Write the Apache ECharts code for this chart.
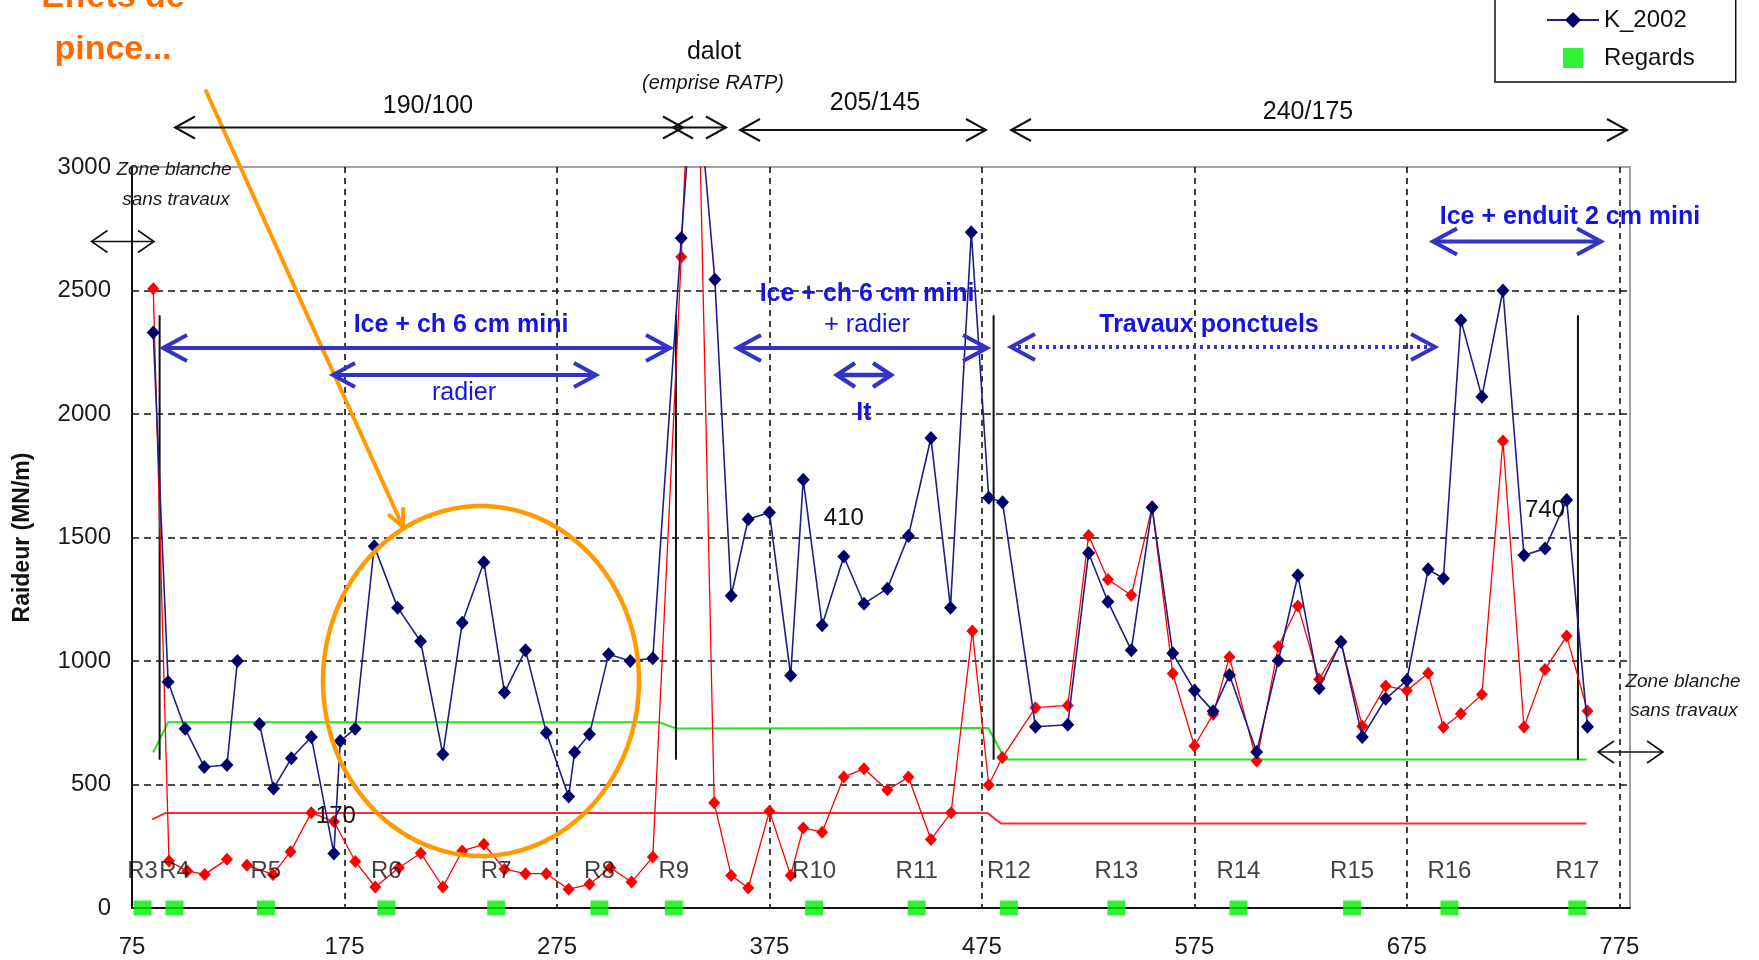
<!DOCTYPE html>
<html lang="fr">
<head>
<meta charset="utf-8">
<title>Raideur (MN/m) – K_2002</title>
<script src="https://cdn.jsdelivr.net/npm/echarts@6/dist/echarts.min.js"></script>
<style>
  html, body { margin: 0; padding: 0; background: #ffffff; }
  #chart { width: 1759px; height: 960px; }
</style>
</head>
<body>
<div id="chart"></div>
<script>
// ---- Measured stiffness along the line (station in m, stiffness in MN/m) ----
// null marks a break in the measurements.
const stationsK2002 = [85, 92, 100, 109, 119.7, 124.6, 130, 135, 141.6, 150,
  159.4, 170, 173, 180, 189, 200, 210.8, 221.3, 230.4, 240.6,
  250.3, 260.2, 270, 280.5, 283.3, 290.3, 299.3, 309.5, 320.1, 333.5,
  340, 349.3, 357, 365, 375, 385, 390.9, 399.8, 410, 419.5,
  430.5, 440.4, 451, 460.2, 470, 478.2, 484.7, 500.2, 515.4, 525.2,
  534.3, 545.3, 555.1, 564.8, 575, 583.8, 591.5, 604.3, 614.5, 623.7,
  633.7, 644, 654, 665, 675, 685, 692.2, 700.4, 710.3, 720.2,
  730.1, 740, 750.2, 760];
const raideurK2002 = [2330, 915, 726, 571, 579, 1000, null, 745, 484, 606,
  692, 221, 676, 726, 1465, 1216, 1080, 622, 1155, 1400,
  872, 1044, 710, 451, 631, 703, 1027, 1000, 1011, 2713,
  3460, 2545, 1264, 1574, 1601, 941, 1734, 1145, 1423, 1232,
  1293, 1506, 1903, 1216, 2736, 1661, 1643, 734, 742, 1437,
  1240, 1044, 1621, 1031, 881, 797, 943, 632, 1002, 1347,
  890, 1078, 692, 847, 922, 1371, 1334, 2380, 2070, 2500,
  1428, 1455, 1652, 734];

const stationsKRecent = [85, 92.4, 101, 109.2, 119.7, 124.6, 129.1, 141.3, 149.6, 159.4,
  170, 180.1, 189.5, 200.6, 210.9, 221.3, 230.4, 240.6, 250.3, 260.2,
  270, 280.5, 290.3, 300.1, 310.1, 320.1, 333.5, 340, 349, 357,
  365, 375, 385, 390.9, 399.8, 410, 419.5, 430.5, 440.4, 451,
  460.5, 470.5, 478.2, 484.6, 500.2, 515.4, 525.2, 534.3, 545.3, 555.1,
  564.8, 575, 583.8, 591.5, 604.3, 614.5, 623.7, 633.7, 644, 654,
  665, 675, 685, 692.2, 700.4, 710.3, 720.2, 730.1, 740, 750.2,
  760];
const raideurKRecent = [2507, 190, 150, 136, 197, null, 173, 136, 228, 386,
  350, 188, 85, 163, 222, 85, 231, 258, 157, 139,
  139, 76, 96, 163, 105, 206, 2636, 4000, 426, 132,
  81, 392, 132, 324, 307, 530, 564, 478, 530, 277,
  386, 1121, 498, 609, 811, 820, 1508, 1330, 1266, 1624,
  949, 656, 784, 1016, 595, 1059, 1223, 926, 1075, 736,
  899, 881, 950, 732, 786, 864, 1891, 733, 966, 1101,
  798];

// Chainage markers written next to some stations
const reperesK2002 = [410, 740];
const reperesKRecent = [170];

// Threshold lines
const seuilVertX = [85, 92, 323, 331, 478, 486, 759.5];
const seuilVertY = [630, 752, 752, 727, 729, 601, 601];
const seuilRougeX = [84.5, 91, 477.5, 484, 759.5];
const seuilRougeY = [359, 385, 385, 342, 342];

// Manholes (regards)
const regardsX = [80, 95, 138, 194.7, 246.4, 295, 330, 396, 444.3, 487.7, 538.3, 595.7, 649.2, 695, 755.2];
const regardsNoms = ['R3', 'R4', 'R5', 'R6', 'R7', 'R8', 'R9', 'R10', 'R11', 'R12', 'R13', 'R14', 'R15', 'R16', 'R17'];

// Section boundaries (vertical bars)
const limitesX = [88, 331, 480.5, 755.5];
const limitesY = [600, 2400];

// Axes
const axeX = { min: 75, max: 780, pas: 100 };
const axeY = { min: 0, max: 3000, pas: 500 };

// ---------------------------------------------------------------------------
const FONT = "'Liberation Sans', Arial, Helvetica, sans-serif";
const BLEU_TXT = '#1414e6';
const BLEU_FLECHE = '#3434c4';

function pairs(xs, ys, labelled, labelOpt) {
  return xs.map((x, i) => {
    const item = { value: [x, ys[i] === null ? '-' : ys[i]] };
    if (labelled && labelled.indexOf(x) >= 0) {
      item.label = Object.assign({ show: true, formatter: String(x) }, labelOpt);
    }
    return item;
  });
}

function limitesData() {
  const d = [];
  limitesX.forEach(x => { d.push([x, limitesY[0]], [x, limitesY[1]], [x, '-']); });
  return d;
}

// Double-headed arrow made of a shaft and two open chevrons
function dblArrow(x1, x2, y, color, width, head, half, dash) {
  const st = { stroke: color, lineWidth: width, fill: null };
  return [
    { type: 'line', shape: { x1: x1, y1: y, x2: x2, y2: y },
      style: Object.assign({}, st, dash ? { lineDash: dash } : {}) },
    { type: 'polyline', shape: { points: [[x1 + head, y - half], [x1, y], [x1 + head, y + half]] }, style: st },
    { type: 'polyline', shape: { points: [[x2 - head, y - half], [x2, y], [x2 - head, y + half]] }, style: st }
  ];
}

function txt(x, y, s, font, color) {
  return { type: 'text', x: x, y: y, style: {
    text: s, font: font, fill: color || '#111',
    align: 'center', verticalAlign: 'middle', textAlign: 'center', textVerticalAlign: 'middle' } };
}

// Callout arrow pointing at a station range
function pointer(x1, y1, x2, y2, color, width, arm) {
  const len = Math.hypot(x2 - x1, y2 - y1);
  const bx = (x1 - x2) / len, by = (y1 - y2) / len;
  const a = 25 * Math.PI / 180, c = Math.cos(a), s = Math.sin(a);
  const p1 = [x2 + arm * (bx * c - by * s), y2 + arm * (bx * s + by * c)];
  const p2 = [x2 + arm * (bx * c + by * s), y2 + arm * (-bx * s + by * c)];
  const st = { stroke: color, lineWidth: width, fill: null, lineCap: 'round' };
  return [
    { type: 'line', shape: { x1: x1, y1: y1, x2: x2, y2: y2 }, style: st },
    { type: 'polyline', shape: { points: [p1, [x2, y2], p2] }, style: st }
  ];
}

function ellipseOutline(cx, cy, rx, ry) {
  const pts = [];
  for (let i = 0; i < 180; i++) {
    const t = i / 180 * Math.PI * 2;
    pts.push([cx + rx * Math.cos(t), cy + ry * Math.sin(t)]);
  }
  return { type: 'polygon', shape: { points: pts },
    style: { fill: null, stroke: '#ff9a00', lineWidth: 4.5 } };
}

const ORANGE = '#ff6a00';
const graphics = [].concat(
  // Orange callout
  [txt(113, -2, 'Effets de', 'bold 34px ' + FONT, ORANGE),
   txt(113, 50, 'pince...', 'bold 34px ' + FONT, ORANGE)],
  pointer(206, 91, 403, 527, '#ff9a00', 4, 18),
  [ellipseOutline(481, 681, 158, 175)],

  // Section dimensions along the top
  dblArrow(175, 683, 127.5, '#111', 2, 20, 11),
  [txt(428, 106, '190/100', '25px ' + FONT)],
  dblArrow(673, 726, 127.5, '#111', 2, 20, 11),
  [txt(714, 52, 'dalot', '25px ' + FONT),
   txt(713, 83, '(emprise RATP)', 'italic 20px ' + FONT)],
  dblArrow(740, 986, 130, '#111', 2, 20, 11),
  [txt(875, 103, '205/145', '25px ' + FONT)],
  dblArrow(1011, 1627, 130, '#111', 2, 20, 11),
  [txt(1308, 112, '240/175', '25px ' + FONT)],

  // Untreated zones at both ends
  [txt(174, 170, 'Zone blanche', 'italic 19px ' + FONT, '#1a1a1a'),
   txt(176, 200, 'sans travaux', 'italic 19px ' + FONT, '#1a1a1a')],
  dblArrow(91.5, 154, 241.5, '#111', 1.6, 16, 11),
  [txt(1683, 682, 'Zone blanche', 'italic 19px ' + FONT, '#1a1a1a'),
   txt(1684, 711, 'sans travaux', 'italic 19px ' + FONT, '#1a1a1a')],
  dblArrow(1598, 1663, 752, '#111', 1.6, 16, 11),

  // Treatment zones
  [txt(461, 325, 'Ice + ch 6 cm mini', 'bold 25px ' + FONT, BLEU_TXT)],
  dblArrow(163, 670, 348, BLEU_FLECHE, 4, 24, 13),
  [txt(464, 393, 'radier', '25px ' + FONT, BLEU_TXT)],
  dblArrow(333, 596, 375, BLEU_FLECHE, 4, 22, 12),

  [txt(867, 294, 'Ice + ch 6 cm mini', 'bold 25px ' + FONT, BLEU_TXT),
   txt(867, 325, '+ radier', '25px ' + FONT, BLEU_TXT)],
  dblArrow(737, 987, 348, BLEU_FLECHE, 4, 24, 13),
  dblArrow(837, 891, 375, BLEU_FLECHE, 4.5, 18, 12),
  [txt(864, 413, 'It', 'bold 25px ' + FONT, BLEU_TXT)],

  [txt(1209, 325, 'Travaux ponctuels', 'bold 25px ' + FONT, BLEU_TXT)],
  dblArrow(1011, 1435, 347, BLEU_FLECHE, 4, 24, 13, [3, 4]),

  [txt(1570, 217, 'Ice + enduit 2 cm mini', 'bold 25px ' + FONT, BLEU_TXT)],
  dblArrow(1433, 1601, 241.5, BLEU_FLECHE, 4, 24, 13)
);

const chart = echarts.init(document.getElementById('chart'), null, { renderer: 'canvas' });

chart.setOption({
  animation: false,
  backgroundColor: '#ffffff',
  textStyle: { fontFamily: FONT },
  grid: {
    left: 132, right: 129, top: 167, bottom: 52,
    containLabel: false, outerBoundsMode: 'none',
    show: true, borderColor: '#a2a2a2', borderWidth: 2, backgroundColor: 'transparent'
  },
  legend: {
    orient: 'vertical',
    left: 1495, top: -54,
    padding: [62, 41, 12, 51],
    itemGap: 14, itemWidth: 52, itemHeight: 20,
    backgroundColor: '#ffffff',
    borderColor: '#111', borderWidth: 1.5, borderRadius: 0,
    symbolKeepAspect: true,
    textStyle: { fontSize: 24, color: '#111', fontFamily: FONT },
    data: [
      { name: 'K_2002' },
      { name: 'Regards', icon: 'path://M0 0H10V10H0Z' }
    ]
  },
  xAxis: {
    type: 'value',
    min: axeX.min, max: axeX.max, interval: axeX.pas,
    axisLine: { show: true, onZero: false, lineStyle: { color: '#111', width: 2 } },
    axisTick: { show: false },
    axisLabel: { fontSize: 24, color: '#1a1a1a', margin: 27, showMaxLabel: false,
      fontFamily: FONT, formatter: v => String(v) },
    splitLine: { show: true, showMinLine: false, showMaxLine: false,
      lineStyle: { color: '#111', width: 1.6, type: [6, 5] } }
  },
  yAxis: {
    type: 'value',
    min: axeY.min, max: axeY.max, interval: axeY.pas,
    name: 'Raideur (MN/m)',
    nameLocation: 'middle', nameGap: 98,
    nameTextStyle: { fontSize: 23, fontWeight: 'bold', color: '#111', fontFamily: FONT },
    axisLine: { show: true, lineStyle: { color: '#111', width: 2 } },
    axisTick: { show: false },
    axisLabel: { fontSize: 24, color: '#1a1a1a', margin: 21, fontFamily: FONT,
      formatter: v => String(v) },
    splitLine: { show: true, showMinLine: false, showMaxLine: false,
      lineStyle: { color: '#111', width: 1.6, type: [7, 5] } }
  },
  series: [
    {
      name: 'Seuil vert', type: 'line', silent: true, z: 2,
      showSymbol: false, symbol: 'none',
      lineStyle: { color: '#1ee81e', width: 2 },
      data: seuilVertX.map((x, i) => [x, seuilVertY[i]])
    },
    {
      name: 'Seuil rouge', type: 'line', silent: true, z: 2,
      showSymbol: false, symbol: 'none',
      lineStyle: { color: '#ff2a2a', width: 2 },
      data: seuilRougeX.map((x, i) => [x, seuilRougeY[i]])
    },
    {
      name: 'Limites', type: 'line', silent: true, z: 2,
      showSymbol: false, symbol: 'none', connectNulls: false,
      lineStyle: { color: '#111', width: 2 },
      data: limitesData()
    },
    {
      name: 'K relevé', type: 'line', z: 3,
      symbol: 'diamond', symbolSize: [12, 13], showAllSymbol: true,
      connectNulls: false,
      itemStyle: { color: '#ff0000' },
      lineStyle: { color: '#ff0000', width: 1.3 },
      data: pairs(stationsKRecent, raideurKRecent, reperesKRecent,
        { position: 'inside', offset: [2, -5], fontSize: 24, color: '#111', fontFamily: FONT })
    },
    {
      name: 'K_2002', type: 'line', z: 4,
      symbol: 'diamond', symbolSize: [13, 14], showAllSymbol: true,
      connectNulls: false,
      itemStyle: { color: '#00006b' },
      lineStyle: { color: '#1e1e88', width: 1.6 },
      data: pairs(stationsK2002, raideurK2002, reperesK2002,
        { position: 'top', distance: 19, fontSize: 24, color: '#111', fontFamily: FONT })
    },
    {
      name: 'Regards', type: 'scatter', z: 6, clip: false,
      symbol: 'rect', symbolSize: [18, 15],
      itemStyle: { color: '#00ee00' },
      label: { show: true, position: 'top', distance: 17, formatter: '{b}',
        fontSize: 24, color: '#111', fontFamily: FONT },
      data: regardsX.map((x, i) => ({ name: regardsNoms[i], value: [x, 0] }))
    }
  ],
  graphic: { elements: graphics.map(g => Object.assign({ z: 100 }, g)) }
});
</script>
</body>
</html>
